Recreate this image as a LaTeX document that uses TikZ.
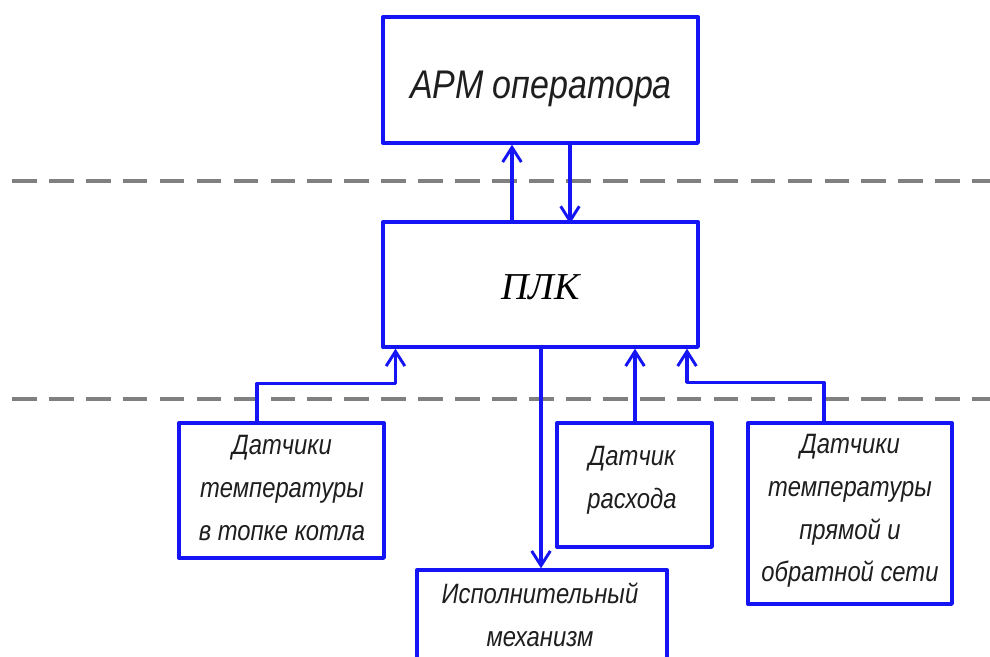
\documentclass[tikz,border=0pt]{standalone}
\usepackage{fontspec}
\usetikzlibrary{arrows.meta,calc}
% narrow slanted sans for the drafting-style captions
\newfontfamily\gost[FakeStretch=0.85]{Liberation Sans}
\newfontfamily\plkfont{Liberation Serif}
\definecolor{linkblue}{RGB}{20,20,245}
\definecolor{zonegray}{RGB}{128,128,128}
\definecolor{inkgray}{RGB}{30,30,30}
\tikzset{
  box/.style={draw=linkblue, line width=2.5pt, rectangle, inner sep=0pt, line join=round},
  link/.style={draw=linkblue, line width=2.5pt, line join=round},
  arr/.style={link, -{Straight Barb[length=11pt,width=14pt,line width=2.2pt]}},
  zone/.style={draw=zonegray, line width=2.3pt, dash pattern=on 18.5pt off 9.2pt},
  caption/.style={font=\gost\itshape\fontsize{21}{32}\selectfont, text=inkgray, align=center, inner sep=0pt},
}
\begin{document}
\begin{tikzpicture}[x=0.75pt,y=-0.75pt]
  \clip (0,0) rectangle (990,657);
  \useasboundingbox (0,0) rectangle (990,657);

  % level separators
  \coordinate (z1a) at (12,181);
  \coordinate (z1b) at (990,181);
  \coordinate (z2a) at (12,399);
  \coordinate (z2b) at (990,399);
  \draw[zone] (z1a) -- (z1b);
  \draw[zone] (z2a) -- (z2b);

  % blocks
  \node[box, minimum width=315*0.75pt, minimum height=126*0.75pt] (arm) at (540.5,80) {};
  \node[box, minimum width=315*0.75pt, minimum height=125*0.75pt] (plk) at (540.5,284.5) {};
  \node[box, minimum width=205*0.75pt, minimum height=135*0.75pt] (s1) at (281.5,490.5) {};
  \node[box, minimum width=250*0.75pt, minimum height=150*0.75pt] (ex) at (542,645) {};
  \node[box, minimum width=155*0.75pt, minimum height=124*0.75pt] (s2) at (634.5,485) {};
  \node[box, minimum width=204*0.75pt, minimum height=181*0.75pt] (s4) at (850,513.5) {};

  % captions
  \node[font=\gost\itshape\fontsize{30}{36}\selectfont, text=inkgray, inner sep=0pt] (armt) at (541,89) {АРМ оператора};
  \node[font=\plkfont\itshape\fontsize{28.5}{34}\selectfont, inner sep=0pt] (plkt) at (540.5,287) {ПЛК};
  \node[caption] (s1t) at (282,488) {Датчики\\температуры\\в топке котла};
  \node[caption] (s2t) at (632,480) {Датчик\\расхода};
  \node[caption] (s4t) at (850,511) {Датчики\\температуры\\прямой и\\обратной сети};
  \node[caption] (ext) at (540,615) {Исполнительный\\механизм};

  % links between the operator station and the controller
  \draw[arr] ($(plk.north)+(-28.5,0)$) -- ($(arm.south)+(-28.5,0)$);
  \draw[arr] ($(arm.south)+(29.5,0)$) -- ($(plk.south)+(29.5,-125)$);

  % sensor inputs and actuator output
  \coordinate (k1) at ($(s1.north)+(-24.5,-38)$);
  \draw[arr] ($(s1.north)+(-24.5,0)$) -- (k1) -| ($(plk.south)+(-145,0)$);
  \draw[arr] ($(s2.north)+(0.5,0)$) -- ($(plk.south)+(94.5,0)$);
  \coordinate (k4) at ($(s4.north)+(-26,-39)$);
  \draw[arr] ($(s4.north)+(-26,0)$) -- (k4) -| ($(plk.south)+(146.5,0)$);
  \draw[arr] ($(plk.south)+(0.5,0)$) -- ($(ex.north)+(-1,0)$);
\end{tikzpicture}
\end{document}
